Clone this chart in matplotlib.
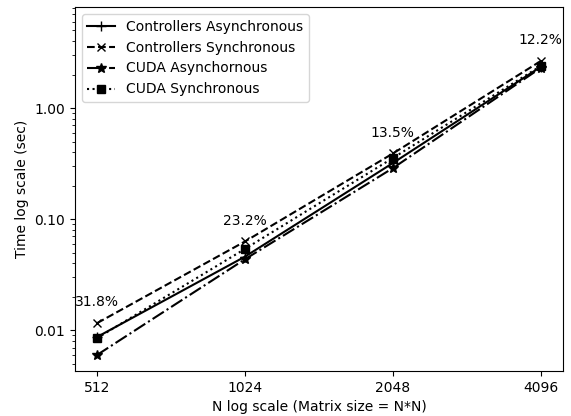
import matplotlib
matplotlib.use("Agg")
import matplotlib.pyplot as plt
from matplotlib.ticker import FormatStrFormatter, NullLocator, FixedLocator

n_sizes = [512, 1024, 2048, 4096]
ctrl_async = [0.0087, 0.046, 0.32, 2.35]
ctrl_sync = [0.0116, 0.063, 0.39, 2.65]
cuda_async = [0.0060, 0.0436, 0.288, 2.30]
cuda_sync = [0.0085, 0.054, 0.355, 2.39]
gain_labels = ["31.8%", "23.2%", "13.5%", "12.2%"]

fig = plt.figure(figsize=(5.71, 4.16), dpi=100)
ax = fig.add_axes([0.131, 0.108, 0.855, 0.875])

ax.plot(n_sizes, ctrl_async, 'k-', marker='+', markersize=7, label="Controllers Asynchronous")
ax.plot(n_sizes, ctrl_sync, 'k--', marker='x', markersize=6, label="Controllers Synchronous")
ax.plot(n_sizes, cuda_async, 'k-.', marker='*', markersize=7, label="CUDA Asynchornous")
ax.plot(n_sizes, cuda_sync, 'k:', marker='s', markersize=6, label="CUDA Synchronous")

# percentage labels above the top point of each size
for i, n in enumerate(n_sizes):
    top = max(ctrl_async[i], ctrl_sync[i], cuda_async[i], cuda_sync[i])
    ax.annotate(gain_labels[i], (n, top), xytext=(0, 10), textcoords='offset points',
                ha='center', va='bottom', fontsize=10)

ax.set_xscale('log', base=2)
ax.set_yscale('log')
ax.xaxis.set_major_locator(FixedLocator(n_sizes))
ax.xaxis.set_minor_locator(NullLocator())
ax.xaxis.set_major_formatter(FormatStrFormatter('%d'))
ax.set_yticks([0.01, 0.1, 1.0])
ax.yaxis.set_major_formatter(FormatStrFormatter('%.2f'))
ax.set_ylim(0.0043, 8.1)

ax.set_xlabel("N log scale (Matrix size = N*N)")
ax.set_ylabel("Time log scale (sec)")
ax.legend(loc='upper left')

fig.savefig("out.png", dpi=100)
